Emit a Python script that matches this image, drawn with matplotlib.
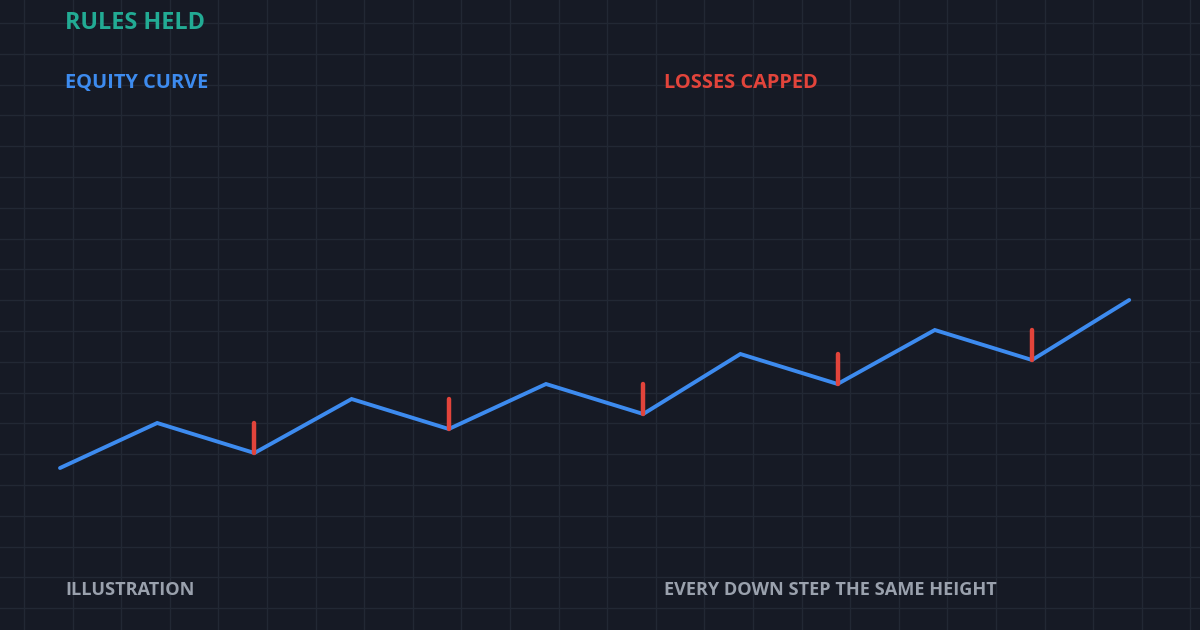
import matplotlib.pyplot as plt
import numpy as np

# datos del grafico
pasos = list(range(12))
equity = [100, 115, 105, 123, 113, 128, 118, 138, 128, 146, 136, 156]
# indices de los minimos donde se marca la perdida
caidas = [2, 4, 6, 8, 10]
alto_caida = 10

titulo = "RULES HELD"
etiqueta_linea = "EQUITY CURVE"
etiqueta_perdida = "LOSSES CAPPED"
nota_izq = "ILLUSTRATION"
nota_der = "EVERY DOWN STEP THE SAME HEIGHT"

fondo = "#161a25"
color_grid = "#222834"
azul = "#3d8bef"
rojo = "#e2443b"
verde = "#22ab94"
gris = "#9aa1ad"

fig = plt.figure(figsize=(12, 6.3), dpi=100)
fig.patch.set_facecolor(fondo)

##fondo con la cuadricula, en pixeles
fondo_ax = fig.add_axes([0, 0, 1, 1])
fondo_ax.set_xlim(0, 1200)
fondo_ax.set_ylim(630, 0)
fondo_ax.set_facecolor(fondo)
fondo_ax.set_xticks(np.arange(24, 1200, 48.6))
fondo_ax.set_yticks(np.arange(23, 630, 30.8))
fondo_ax.grid(True, color=color_grid, linewidth=1)
fondo_ax.tick_params(length=0, labelbottom=False, labelleft=False)
for s in fondo_ax.spines.values():
    s.set_visible(False)

##ejes de la curva
ax = fig.add_axes([0, 0, 1, 1])
ax.patch.set_alpha(0)
ax.set_xlim(-60 / 97.2, 1140 / 97.2)
ax.set_ylim(46, 256)
ax.axis("off")

ax.plot(pasos, equity, color=azul, linewidth=2.8, solid_capstyle="round", solid_joinstyle="miter", zorder=3)
for i in caidas:
    ax.plot([pasos[i], pasos[i]], [equity[i], equity[i] + alto_caida], color=rojo,
            linewidth=3.2, solid_capstyle="round", zorder=4)

fuente = dict(family=["Open Sans", "DejaVu Sans"], fontweight="bold")
fig.text(65 / 1200, 1 - 23 / 630, titulo, color=verde, fontsize=16.8, va="center", ha="left", **fuente)
fig.text(65 / 1200, 1 - 83 / 630, etiqueta_linea, color=azul, fontsize=14.4, va="center", ha="left", **fuente)
fig.text(664 / 1200, 1 - 83 / 630, etiqueta_perdida, color=rojo, fontsize=14.4, va="center", ha="left", **fuente)
fig.text(65 / 1200, 1 - 590 / 630, nota_izq, color=gris, fontsize=13.1, va="center", ha="left", **fuente)
fig.text(664 / 1200, 1 - 590 / 630, nota_der, color=gris, fontsize=13.1, va="center", ha="left", **fuente)

fig.savefig("out.png", dpi=100, facecolor=fondo)
